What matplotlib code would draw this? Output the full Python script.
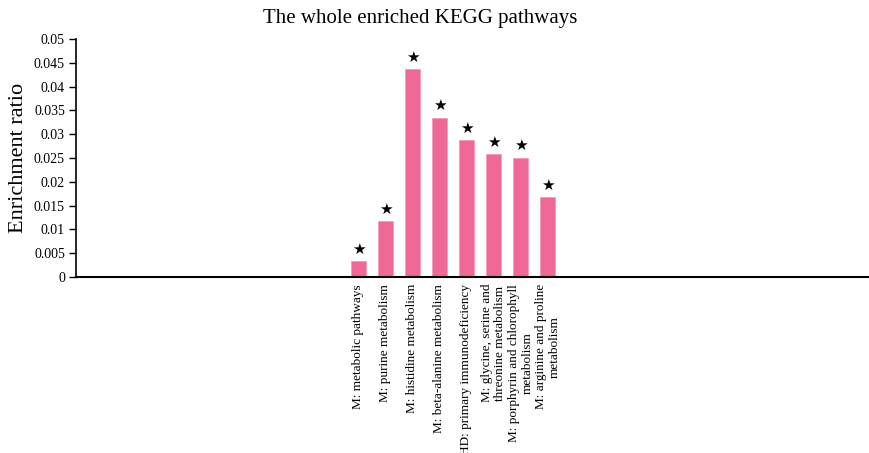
import numpy as np
import matplotlib
matplotlib.use('Agg')
import matplotlib.pyplot as plt

pathways = ['M: metabolic pathways',
            'M: purine metabolism',
            'M: histidine metabolism',
            'M: beta-alanine metabolism',
            'HD: primary immunodeficiency',
            'M: glycine, serine and\nthreonine metabolism',
            'M: porphyrin and chlorophyll\nmetabolism',
            'M: arginine and proline\nmetabolism']
ratio = [0.0034, 0.0118, 0.0436, 0.0335, 0.0288, 0.0258, 0.0251, 0.0168]
yticks = [0, 0.005, 0.01, 0.015, 0.02, 0.025, 0.03, 0.035, 0.04, 0.045, 0.05]
ytick_labels = ['0', '0.005', '0.01', '0.015', '0.02', '0.025', '0.03',
                '0.035', '0.04', '0.045', '0.05']

plt.rcParams['font.family'] = ['Liberation Serif', 'DejaVu Serif']

fig = plt.figure(figsize=(8.69, 4.53), dpi=100)
ax = fig.add_axes([76 / 869, (453 - 277) / 453, (869 - 76) / 869, 238 / 453])

x = np.arange(len(pathways))
ax.bar(x, ratio, width=0.54, color='#EF6898', edgecolor='#F59CBC', linewidth=0.6)

# stars over each bar
for xi, v in zip(x, ratio):
    ax.annotate('★', (xi, v), xytext=(0, 3), textcoords='offset points',
                ha='center', va='bottom', fontsize=11, family='DejaVu Sans')

ax.set_xlim(-10.45, 18.9)
ax.set_ylim(0, 0.05)
ax.set_yticks(yticks)
ax.set_yticklabels(ytick_labels, fontsize=10)
ax.set_xticks(x)
ax.set_xticklabels(pathways, rotation=90, ha='center', va='top',
                   multialignment='center', fontsize=9.5)
ax.tick_params(axis='x', length=0, pad=5)
ax.tick_params(axis='y', length=5, width=1, direction='out', pad=3)

ax.spines['right'].set_visible(False)
ax.spines['top'].set_visible(False)
ax.spines['left'].set_linewidth(1.2)
ax.spines['bottom'].set_linewidth(1.5)

ax.set_ylabel('Enrichment ratio', fontsize=16, labelpad=4)
fig.text(420 / 869, 1 - 19 / 453, 'The whole enriched KEGG pathways',
         ha='center', va='center', fontsize=15)

fig.savefig('out.png', dpi=100)
